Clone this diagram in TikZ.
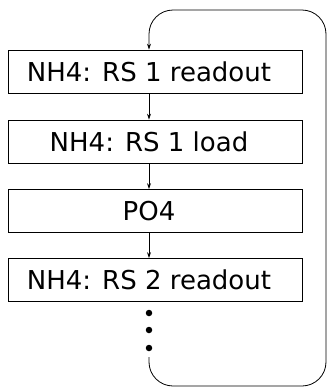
\documentclass[tikz,border=0pt]{standalone}
\usepackage{fontspec}
\setmainfont{DejaVu Sans}
\usetikzlibrary{arrows.meta}
\begin{document}
\begin{tikzpicture}[x=1pt,y=1pt,
  stepbox/.style={draw, line width=0.8pt, minimum width=294pt, minimum height=43pt, inner sep=0pt, font=\fontsize{26}{28}\selectfont},
  link/.style={line width=0.8pt, -{Stealth[length=6pt,width=4pt]}},
  dot/.style={circle, fill, inner sep=0pt, minimum size=6.5pt}]
\useasboundingbox (0,0) rectangle (328,-389);
\node[stepbox] (b1) at (155,-71.5) {NH4: RS 1 readout\hspace*{12pt}};
\node[stepbox] (b2) at (155,-141.5) {NH4: RS 1 load\hspace*{12pt}};
\node[stepbox] (b3) at (155,-211) {PO4\hspace*{12pt}};
\node[stepbox] (b4) at (155,-280) {NH4: RS 2 readout\hspace*{12pt}};
\node[dot] (d1) at (149,-313) {};
\node[dot] (d2) at (149,-330) {};
\node[dot] (d3) at (149,-348) {};
\coordinate (s) at (149,-357);
\draw[link] (b1.south -| s) -- (b2.north -| s);
\draw[link] (b2.south -| s) -- (b3.north -| s);
\draw[link] (b3.south -| s) -- (b4.north -| s);
\draw[link, rounded corners=24pt] (s) -- (149,-386) -- (326,-386) -- (326,-10) -- (149,-10) -- (b1.north -| s);
\end{tikzpicture}
\end{document}
